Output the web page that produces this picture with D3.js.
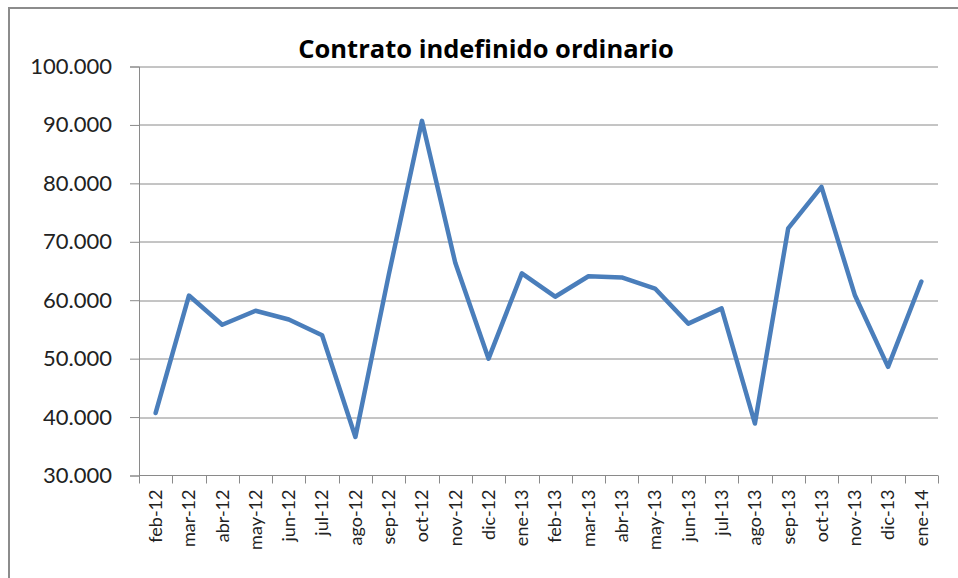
<!DOCTYPE html>
<html lang="es">
<head>
<meta charset="UTF-8">
<script src="https://d3js.org/d3.v7.min.js"></script>
<style>
    body { margin: 0; background: #fff; }
    svg { display: block; }
    .title { font-family: "Open Sans", Lato, sans-serif; font-weight: bold; font-size: 25.5px; }
    .tick text { font-family: Lato, "Open Sans", sans-serif; fill: #222; }
</style>
</head>
<body>
<div id="chart"></div>
<script>
    // months shown on the x axis
    const months = ["feb-12", "mar-12", "abr-12", "may-12", "jun-12", "jul-12", "ago-12", "sep-12",
        "oct-12", "nov-12", "dic-12", "ene-13", "feb-13", "mar-13", "abr-13", "may-13",
        "jun-13", "jul-13", "ago-13", "sep-13", "oct-13", "nov-13", "dic-13", "ene-14"];

    // contratos indefinidos ordinarios
    const contratos = [40700, 60800, 55800, 58200, 56700, 54000, 36600, 64300,
        90700, 66400, 50000, 64600, 60600, 64100, 63900, 62000,
        56000, 58600, 38900, 72300, 79400, 60900, 48600, 63200];

    const yTicks = [30000, 40000, 50000, 60000, 70000, 80000, 90000, 100000];

    const W = 958, H = 578;
    const margin = {top: 66.5, right: 20, bottom: 102.5, left: 139};
    const width = 938 - margin.left;
    const height = H - margin.top - margin.bottom;

    const svg = d3.select("#chart").append("svg")
        .attr("width", W)
        .attr("height", H);

    // outer chart frame
    svg.append("rect")
        .attr("x", 9).attr("y", 8)
        .attr("width", W + 10).attr("height", H + 10)
        .attr("fill", "none")
        .attr("stroke", "#8c8c8c")
        .attr("stroke-width", 2);

    svg.append("text")
        .attr("class", "title")
        .attr("x", 486)
        .attr("y", 58)
        .attr("text-anchor", "middle")
        .text("Contrato indefinido ordinario");

    const g = svg.append("g")
        .attr("transform", `translate(${margin.left},${margin.top})`);

    const x = d3.scaleBand()
        .domain(months)
        .range([0, width])
        .padding(0);

    const y = d3.scaleLinear()
        .domain([30000, 100000])
        .range([height, 0]);

    const fmt = d => d3.format(",")(d).replace(/,/g, ".");

    // gridlines
    g.append("g")
        .selectAll("line")
        .data(yTicks.slice(1))
        .join("line")
        .attr("x1", 0).attr("x2", width)
        .attr("y1", d => Math.round(y(d)) + 0.5)
        .attr("y2", d => Math.round(y(d)) + 0.5)
        .attr("stroke", "#8a8a8a")
        .attr("stroke-width", 1);

    // y axis
    const yAxis = g.append("g")
        .call(d3.axisLeft(y).tickValues(yTicks).tickFormat(fmt).tickSize(9).tickPadding(18));
    yAxis.select(".domain").attr("stroke", "#8a8a8a");
    yAxis.selectAll(".tick line").attr("stroke", "#8a8a8a");
    yAxis.selectAll(".tick text").style("font-size", "22px");

    // x axis, ticks at category boundaries
    const xAxis = g.append("g")
        .attr("transform", `translate(0,${height})`);
    xAxis.append("line")
        .attr("x1", 0).attr("x2", width)
        .attr("stroke", "#8a8a8a");
    const bounds = months.map(m => x(m)).concat([width]);
    xAxis.selectAll(".xt")
        .data(bounds)
        .join("line")
        .attr("class", "xt")
        .attr("x1", d => Math.round(d) + 0.5).attr("x2", d => Math.round(d) + 0.5)
        .attr("y1", 0).attr("y2", 8)
        .attr("stroke", "#8a8a8a");
    xAxis.selectAll(".tick")
        .data(months)
        .join("g")
        .attr("class", "tick")
        .attr("transform", d => `translate(${x(d) + x.bandwidth() / 2},14)`)
        .append("text")
        .attr("transform", "rotate(-90)")
        .attr("text-anchor", "end")
        .attr("dy", "0.35em")
        .style("font-size", "18px")
        .text(d => d);

    // series line
    const line = d3.line()
        .x((d, i) => x(months[i]) + x.bandwidth() / 2)
        .y(d => y(d));

    g.append("path")
        .datum(contratos)
        .attr("fill", "none")
        .attr("stroke", "#4a7ebb")
        .attr("stroke-width", 4.5)
        .attr("stroke-linejoin", "round")
        .attr("stroke-linecap", "round")
        .attr("d", line);
</script>
</body>
</html>
